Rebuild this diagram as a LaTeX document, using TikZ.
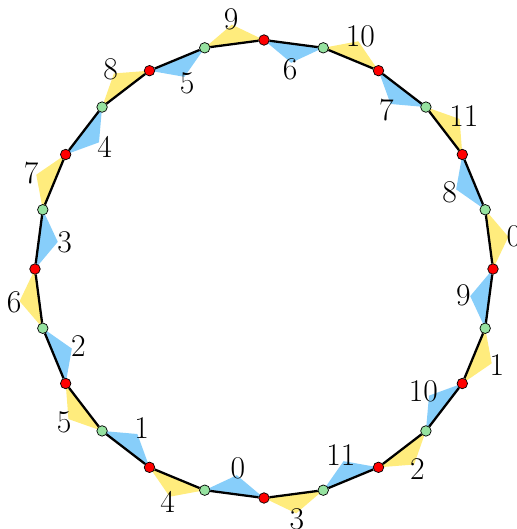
\documentclass[tikz,border=0pt]{standalone}
\usepackage{tikz}
\usetikzlibrary{backgrounds}
\definecolor{triyellow}{RGB}{255,236,125}
\definecolor{triblue}{RGB}{135,206,250}
\definecolor{dotgreen}{RGB}{150,226,160}

\begin{document}
\begin{tikzpicture}[font=\fontsize{18}{20}\selectfont,
  reddot/.style={circle, draw, fill=red, inner sep=0pt, minimum size=0.21cm, line width=0.4pt},
  greendot/.style={reddot, fill=dotgreen},
  ring/.style={line width=1.3pt}]
\useasboundingbox (-5.28,-5.20) rectangle (5.04,5.38);

% Vertices: red every 30 degrees, green in between
\foreach \i in {0,...,11} {
  \node[reddot] (r\i) at (30*\i:4.58) {};
  \node[greendot] (g\i) at (30*\i+15:4.58) {};
}

% Polygon
\foreach \i in {0,...,11} {
  \pgfmathtruncatemacro\j{mod(\i+1,12)}
  \draw[ring] (r\i) -- (g\i);
  \draw[ring] (g\i) -- (r\j);
}

% Triangles (yellow outside, blue inside) and their numbers
\foreach \i/\ya/\bl in {0/0/8, 1/11/7, 2/10/6, 3/9/5, 4/8/4, 5/7/3,
                        6/6/2, 7/5/1, 8/4/0, 9/3/11, 10/2/10, 11/1/9} {
  \pgfmathtruncatemacro\j{mod(\i+1,12)}
  \coordinate (ya\i) at (30*\i+7.5:4.93);
  \coordinate (ba\i) at (30*\i+22.5:4.16);
  \begin{pgfonlayer}{background}
    \fill[triyellow] (r\i.center) -- (ya\i) -- (g\i.center) -- cycle;
    \fill[triblue] (g\i.center) -- (ba\i) -- (r\j.center) -- cycle;
  \end{pgfonlayer}
  \node (yl\i) at (30*\i+7.5:5.04) {\ya};
  \node (bl\i) at (30*\i+22.5:4.02) {\bl};
}
\end{tikzpicture}
\end{document}
